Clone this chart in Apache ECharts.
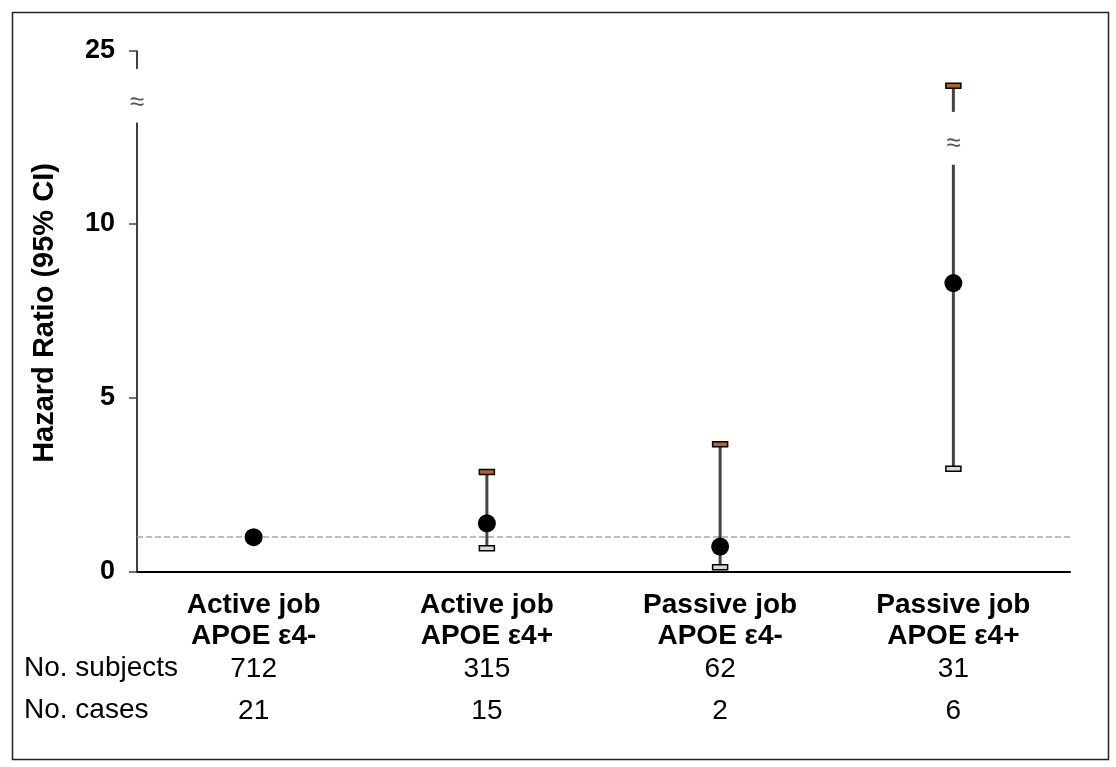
<!DOCTYPE html>
<html>
<head>
<meta charset="utf-8">
<title>Hazard Ratio by job type and APOE ε4</title>
<script src="https://cdn.jsdelivr.net/npm/echarts@6/dist/echarts.min.js"></script>
<style>
  html, body { margin: 0; padding: 0; background: #fff; }
  #chart { width: 1116px; height: 767px; }
</style>
</head>
<body>
<div id="chart"></div>
<script>
// Groups, estimates and confidence limits
const categories = ['Active job\nAPOE ε4-', 'Active job\nAPOE ε4+', 'Passive job\nAPOE ε4-', 'Passive job\nAPOE ε4+'];
const hazardRatio = [1.0, 1.4, 0.73, 8.3];
const ciLower = [null, 0.68, 0.14, 2.97];
const ciUpper = [null, 2.87, 3.67, 24.0];
const subjects = [712, 315, 62, 31];
const cases = [21, 15, 2, 6];
const lowerTicks = [0, 5, 10];
const upperTicks = [25];
const referenceLine = 1;

// Broken y axis: lower part 0..LOWER_MAX, upper part UPPER_MIN..UPPER_MAX
const LOWER_MAX = 12.9;
const UPPER_MIN = 24.5;
const UPPER_MAX = 25;
// Where a whisker crossing the break stops, shows its mark and resumes
const BAR_BREAK_LOW = 11.7;
const BAR_BREAK_MARK = 12.3;
const BAR_BREAK_HIGH = 23.25;

const FONT = "'Liberation Sans', Arial, sans-serif";
const WHISKER = '#444';
const CAP_HIGH_FILL = '#b0642c';
const CAP_LOW_FILL = '#d9d9d9';

const errorData = [];
categories.forEach((c, i) => {
  if (ciLower[i] != null && ciUpper[i] != null) errorData.push([i, ciLower[i], ciUpper[i]]);
});
const pointData = hazardRatio.map((v, i) => [i, v]);

function cap(p, fill) {
  return {
    type: 'rect',
    shape: { x: p[0] - 7.5, y: p[1] - 2.5, width: 15, height: 5 },
    style: { fill: fill, stroke: '#000', lineWidth: 1.5 }
  };
}

function breakMark(p) {
  return {
    type: 'text', x: p[0], y: p[1],
    style: { text: '≈', fill: '#555', font: '26px ' + FONT, align: 'center', verticalAlign: 'middle' }
  };
}

function renderLower(params, api) {
  const i = api.value(0), lo = api.value(1), hi = api.value(2);
  const broken = hi > LOWER_MAX;
  const pLo = api.coord([i, lo]);
  const pTop = api.coord([i, broken ? BAR_BREAK_LOW : hi]);
  const children = [
    { type: 'line', shape: { x1: pLo[0], y1: pLo[1], x2: pTop[0], y2: pTop[1] },
      style: { stroke: WHISKER, lineWidth: 3 } },
    cap(pLo, CAP_LOW_FILL)
  ];
  if (broken) children.push(breakMark(api.coord([i, BAR_BREAK_MARK])));
  else children.push(cap(pTop, CAP_HIGH_FILL));
  return { type: 'group', children: children };
}

function renderUpper(params, api) {
  const i = api.value(0), hi = api.value(2);
  if (!(hi > LOWER_MAX)) return;
  const pHi = api.coord([i, hi]);
  const pResume = api.coord([i, BAR_BREAK_HIGH]);
  return {
    type: 'group',
    children: [
      { type: 'line', shape: { x1: pResume[0], y1: pResume[1], x2: pHi[0], y2: pHi[1] },
        style: { stroke: WHISKER, lineWidth: 3 } },
      cap(pHi, CAP_HIGH_FILL)
    ]
  };
}

function tableAxis(offset, values) {
  return {
    type: 'category', gridIndex: 0, position: 'bottom', offset: offset,
    data: categories,
    axisLine: { show: false }, axisTick: { show: false }, splitLine: { show: false },
    axisLabel: {
      interval: 0, margin: 0,
      formatter: (v, idx) => String(values[idx]),
      color: '#000', fontFamily: FONT, fontSize: 28, lineHeight: 30
    }
  };
}

const chart = echarts.init(document.getElementById('chart'), null, { renderer: 'canvas' });

chart.setOption({
  animation: false,
  backgroundColor: '#fff',
  grid: [
    { left: 137, right: 46, top: 123, bottom: 195, outerBoundsMode: 'none', containLabel: false },
    { left: 137, right: 46, top: 51, height: 17.4, outerBoundsMode: 'none', containLabel: false }
  ],
  xAxis: [
    {
      type: 'category', gridIndex: 0, data: categories, boundaryGap: true,
      axisLine: { lineStyle: { color: '#000', width: 2 } },
      axisTick: { show: false },
      axisLabel: {
        interval: 0, margin: 18, color: '#000', fontFamily: FONT,
        fontSize: 28, fontWeight: 'bold', lineHeight: 31
      }
    },
    { type: 'category', gridIndex: 1, data: categories, show: false },
    tableAxis(82, subjects),
    tableAxis(124, cases)
  ],
  yAxis: [
    {
      type: 'value', gridIndex: 0, min: 0, max: LOWER_MAX, interval: 5,
      splitLine: { show: false },
      axisLine: { show: true, lineStyle: { color: '#000', width: 1.5 } },
      axisTick: { show: true, length: 8, customValues: lowerTicks, lineStyle: { color: '#444', width: 1.5 } },
      axisLabel: {
        customValues: lowerTicks, margin: 22, color: '#000', fontFamily: FONT,
        fontSize: 27, fontWeight: 'bold'
      }
    },
    {
      type: 'value', gridIndex: 1, min: UPPER_MIN, max: UPPER_MAX, interval: 0.5,
      splitLine: { show: false },
      axisLine: { show: true, lineStyle: { color: '#000', width: 1.5 } },
      axisTick: { show: true, length: 8, customValues: upperTicks, lineStyle: { color: '#444', width: 1.5 } },
      axisLabel: {
        customValues: upperTicks, margin: 22, color: '#000', fontFamily: FONT,
        fontSize: 27, fontWeight: 'bold'
      }
    }
  ],
  series: [
    {
      type: 'custom', name: 'CI', xAxisIndex: 0, yAxisIndex: 0,
      data: errorData, encode: { x: 0, y: [1, 2] },
      renderItem: renderLower, clip: false, z: 3, silent: true
    },
    {
      type: 'custom', name: 'CI upper', xAxisIndex: 1, yAxisIndex: 1,
      data: errorData, encode: { x: 0, y: 2 },
      renderItem: renderUpper, clip: false, z: 3, silent: true
    },
    {
      type: 'scatter', name: 'Hazard ratio', xAxisIndex: 0, yAxisIndex: 0,
      data: pointData, symbol: 'circle', symbolSize: 18,
      itemStyle: { color: '#000', opacity: 1 }, z: 5, silent: true,
      markLine: {
        silent: true, symbol: 'none', label: { show: false }, z: 1,
        lineStyle: { color: '#a6a6a6', type: [6, 3], width: 1.5 },
        data: [{ yAxis: referenceLine }]
      }
    }
  ],
  graphic: [
    {
      type: 'rect', left: 10, top: 10, z: -10,
      shape: { width: 1096, height: 747 },
      style: { fill: 'none', stroke: '#222', lineWidth: 1.5 }
    },
    {
      type: 'text', x: 45, y: 313, rotation: Math.PI / 2,
      style: {
        text: 'Hazard Ratio (95% CI)', fill: '#000', font: 'bold 29px ' + FONT,
        align: 'center', verticalAlign: 'middle'
      }
    },
    {
      type: 'text', x: 137, y: 103,
      style: { text: '≈', fill: '#555', font: '26px ' + FONT, align: 'center', verticalAlign: 'middle' }
    },
    {
      type: 'text', x: 24, y: 668,
      style: { text: 'No. subjects', fill: '#000', font: '28px ' + FONT, align: 'left', verticalAlign: 'middle' }
    },
    {
      type: 'text', x: 24, y: 710,
      style: { text: 'No. cases', fill: '#000', font: '28px ' + FONT, align: 'left', verticalAlign: 'middle' }
    }
  ]
});
</script>
</body>
</html>
